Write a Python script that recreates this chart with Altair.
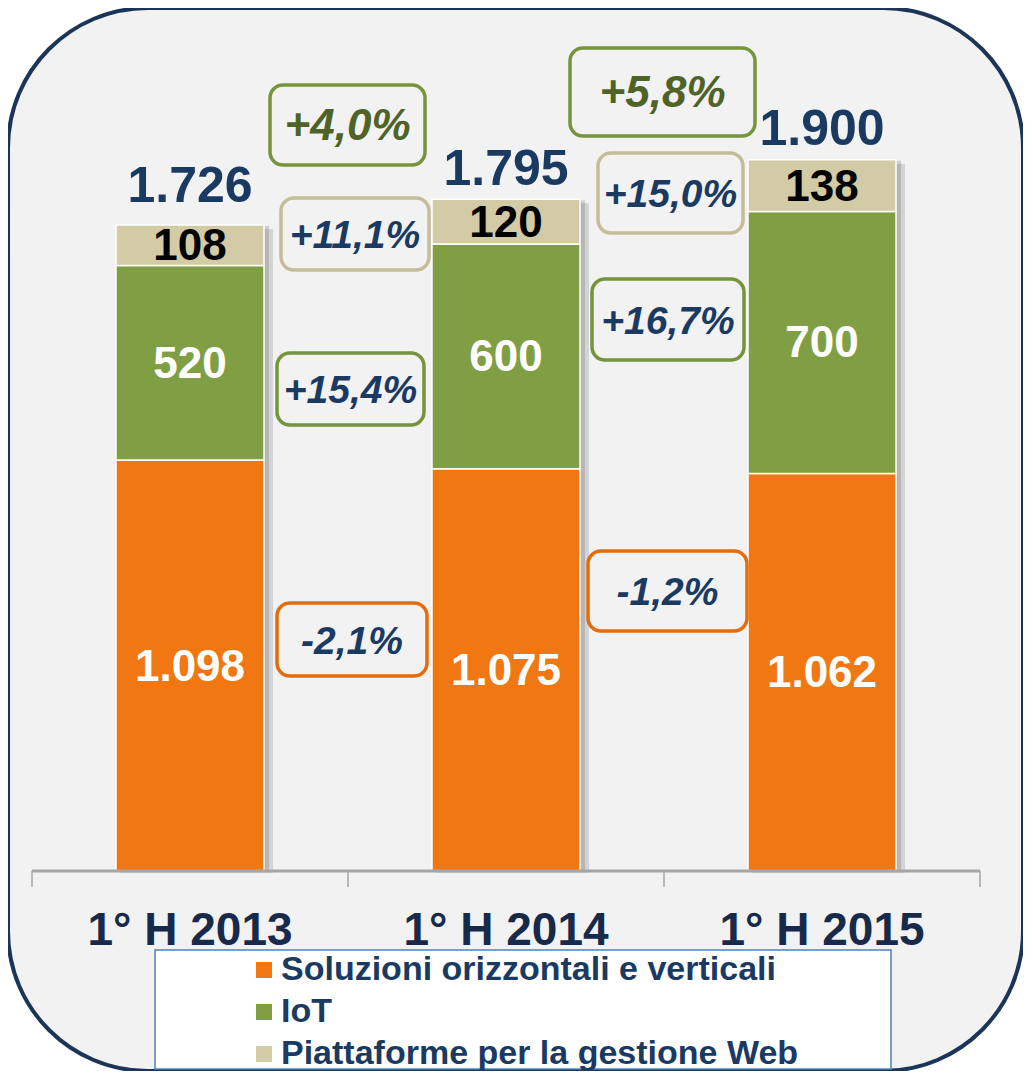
import altair as alt
import pandas as pd

# ---------------- data ----------------
periods = ["1° H 2013", "1° H 2014", "1° H 2015"]
series = ["Soluzioni orizzontali e verticali", "IoT", "Piattaforme per la gestione Web"]
soluzioni = [1098, 1075, 1062]
iot = [520, 600, 700]
piattaforme = [108, 120, 138]
totals = [1726, 1795, 1900]

growth_labels = ["+4,0%", "+11,1%", "+15,4%", "-2,1%", "+5,8%", "+15,0%", "+16,7%", "-1,2%"]
growth_kind = ["totale", "web", "iot", "sol", "totale", "web", "iot", "sol"]

# ---------------- layout (page pixels) ----------------
W, H = 1015, 1063
ORIGIN = 8
BASE_Y = 871
PX_PER_UNIT = 0.3743
STEP = 316
FIRST_EDGE_X = 32
BAR_W = 148

def xv(px):
    return (px - FIRST_EDGE_X) / STEP - 0.5

def yv(py):
    return (BASE_Y - py) / PX_PER_UNIT

x_scale = alt.Scale(domain=[xv(ORIGIN), xv(ORIGIN + W)], nice=False, zero=False)
y_scale = alt.Scale(domain=[yv(ORIGIN + H), yv(ORIGIN)], nice=False, zero=False)

series_colors = ["#F07712", "#809F45", "#D3CBA5"]
label_colors = ["white", "white", "black"]
NAVY = "#1B3A62"
DARK_NAVY = "#172A4A"
FONT = "Liberation Sans"

half = BAR_W / 2 / STEP

# bars
rows = []
for i, p in enumerate(periods):
    start = 0
    for s, vals, lc in zip(series, [soluzioni, iot, piattaforme], label_colors):
        v = vals[i]
        rows.append({
            "period": p, "series": s, "start": start, "end": start + v,
            "mid": start + v / 2, "x1": i - half, "x2": i + half, "xc": i,
            "label": f"{v:,}".replace(",", "."), "lcol": lc,
        })
        start += v
bars = pd.DataFrame(rows)

tot_gap = [23, 14, 15]
tot = pd.DataFrame({
    "xc": list(range(len(periods))),
    "y": [t + g / PX_PER_UNIT for t, g in zip(totals, tot_gap)],
    "label": [f"{t:,}".replace(",", ".") for t in totals],
})

shadow = pd.DataFrame({
    "x1": [i - half + 4 / STEP for i in range(3)],
    "x2": [i + half + 9 / STEP for i in range(3)],
    "y1": [yv(BASE_Y + 2)] * 3,
    "y2": [t - 4 / PX_PER_UNIT for t in totals],
})
shadow2 = pd.DataFrame({
    "x1": [i - half + 2 / STEP for i in range(3)],
    "x2": [i + half + 5 / STEP for i in range(3)],
    "y1": [yv(BASE_Y + 1)] * 3,
    "y2": [t - 1 / PX_PER_UNIT for t in totals],
})

cats = pd.DataFrame({"xc": list(range(3)), "y": [yv(945)] * 3, "label": periods})

axis_line = pd.DataFrame({"x1": [-0.5], "x2": [len(periods) - 0.5], "y": [0.0]})
ticks = pd.DataFrame({"x": [k - 0.5 for k in range(len(periods) + 1)], "y1": [0.0] * 4,
                      "y2": [yv(887)] * 4})

# growth boxes
box_geom = [(270, 425, 85, 165), (281, 429, 198, 270), (277, 424, 353, 425),
            (277, 427, 603, 676), (570, 755, 48, 136), (598, 743, 153, 233),
            (592, 744, 279, 360), (588, 747, 551, 631)]
kind_stroke = {"totale": "#77933C", "web": "#C4BD97", "iot": "#77933C", "sol": "#E46C0A"}
kind_text = {"totale": "#4F6228", "web": NAVY, "iot": NAVY, "sol": NAVY}
kind_size = {"totale": 44, "web": 39, "iot": 39, "sol": 39}
gb = pd.DataFrame({
    "label": growth_labels,
    "x1": [xv(g[0]) for g in box_geom], "x2": [xv(g[1]) for g in box_geom],
    "y1": [yv(g[2]) for g in box_geom], "y2": [yv(g[3]) for g in box_geom],
    "xc": [xv((g[0] + g[1]) / 2) for g in box_geom],
    "yc": [yv((g[2] + g[3]) / 2) for g in box_geom],
    "scol": [kind_stroke[k] for k in growth_kind],
    "tcol": [kind_text[k] for k in growth_kind],
    "fs": [kind_size[k] for k in growth_kind],
})

legend_box = pd.DataFrame({"a": [1]})

X = lambda f: alt.X(f, type="quantitative", scale=x_scale, axis=None)
Y = lambda f: alt.Y(f, type="quantitative", scale=y_scale, axis=None)

sh2 = alt.Chart(shadow).mark_rect(color="#000000", opacity=0.12).encode(
    x=X("x1"), x2="x2", y=Y("y1"), y2="y2")
sh1 = alt.Chart(shadow2).mark_rect(color="#000000", opacity=0.14).encode(
    x=X("x1"), x2="x2", y=Y("y1"), y2="y2")

bar_layer = alt.Chart(bars).mark_rect(stroke="white", strokeWidth=1.5).encode(
    x=X("x1"), x2="x2", y=Y("start"), y2="end",
    color=alt.Color("series:N", scale=alt.Scale(domain=series, range=series_colors),
                    legend=alt.Legend(orient="none", legendX=239, legendY=945, title=None,
                                      symbolType="square", symbolSize=256,
                                      symbolStrokeWidth=0, labelFont=FONT,
                                      labelFontSize=34, labelFontWeight="bold",
                                      labelColor=NAVY, rowPadding=8, labelOffset=0,
                                      padding=0, labelLimit=800)),
)

seg_text = alt.Chart(bars).mark_text(font=FONT, fontSize=44, fontWeight="bold",
                                     baseline="middle", dy=2).encode(
    x=X("xc"), y=Y("mid"), text="label:N", fill=alt.Fill("lcol:N", scale=None))

tot_text = alt.Chart(tot).mark_text(font=FONT, fontSize=50, fontWeight="bold",
                                    baseline="alphabetic", color=NAVY).encode(
    x=X("xc"), y=Y("y"), text="label:N")

cat_text = alt.Chart(cats).mark_text(font=FONT, fontSize=46, fontWeight="bold",
                                     baseline="alphabetic", color=DARK_NAVY).encode(
    x=X("xc"), y=Y("y"), text="label:N")

axl = alt.Chart(axis_line).mark_rule(color="#A6A6A6", strokeWidth=3).encode(
    x=X("x1"), x2="x2", y=Y("y"))
tkl = alt.Chart(ticks).mark_rule(color="#A6A6A6", strokeWidth=1.5).encode(
    x=X("x"), y=Y("y1"), y2="y2")

boxes = alt.Chart(gb).mark_rect(cornerRadius=13, strokeWidth=3.5, fill="#F2F2F2").encode(
    x=X("x1"), x2="x2", y=Y("y1"), y2="y2", stroke=alt.Stroke("scol:N", scale=None))
box_text = alt.Chart(gb).mark_text(font=FONT, fontWeight="bold", fontStyle="italic",
                                   baseline="middle", dy=2).encode(
    x=X("xc"), y=Y("yc"), text="label:N", fill=alt.Fill("tcol:N", scale=None),
    size=alt.Size("fs:Q", scale=None))

leg_rect = alt.Chart(legend_box).mark_rect(fill="white", stroke="#4F81BD", strokeWidth=1.5).encode(
    x=alt.value(155 - ORIGIN), x2=alt.value(891 - ORIGIN),
    y=alt.value(950 - ORIGIN), y2=alt.value(1069 - ORIGIN))

chart = alt.layer(
    sh2, sh1, bar_layer, axl, tkl, seg_text, tot_text, cat_text, boxes, box_text, leg_rect
).properties(
    width=W, height=H, autosize=alt.AutoSizeParams(type="none"), padding=0
).configure_view(
    fill="#F2F2F2", stroke="#1B3558", strokeWidth=4, cornerRadius=140
)

chart.save("out.html", embed_options={"renderer": "svg", "actions": False})
